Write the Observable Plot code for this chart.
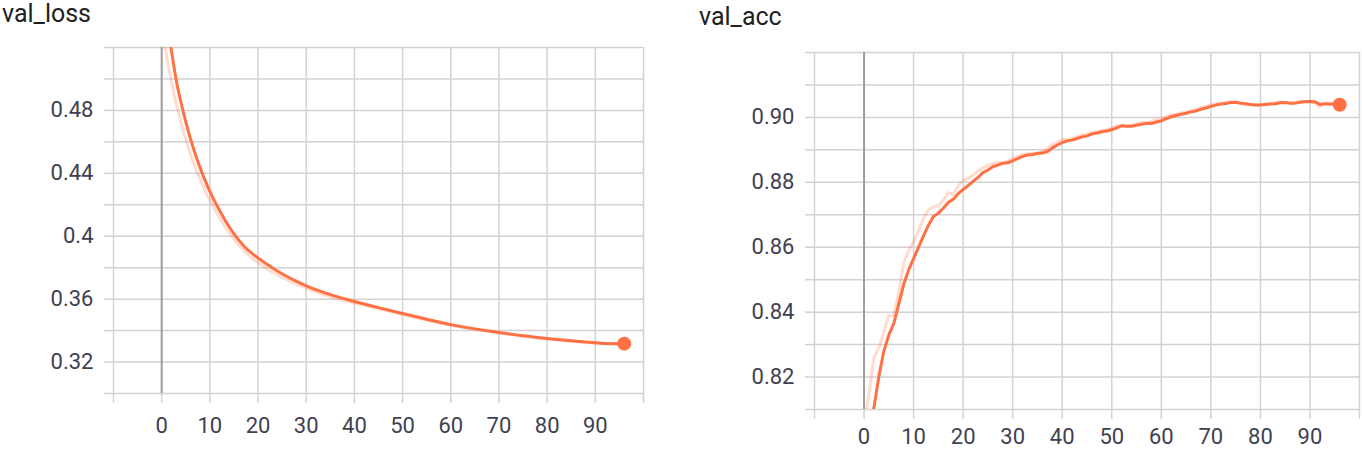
<!DOCTYPE html>
<html><head><meta charset="utf-8">
<script src="https://cdn.jsdelivr.net/npm/d3@7"></script>
<script src="https://cdn.jsdelivr.net/npm/@observablehq/plot@0.6"></script>
<style>
body{margin:0;background:#fff;width:1362px;height:449px;overflow:hidden;position:relative;font-family:Roboto,sans-serif}
.title{position:absolute;font-size:25px;color:#212121;line-height:1;white-space:nowrap}
.chart{position:absolute;top:0}
</style></head><body>
<div class="title" style="left:2px;top:1px">val_loss</div>
<div class="title" style="left:699px;top:4px">val_acc</div>
<div class="chart" id="c1" style="left:0"></div>
<div class="chart" id="c2" style="left:680px"></div>
<script>
// ---- data ----
const xGrid = [-10, 0, 10, 20, 30, 40, 50, 60, 70, 80, 90, 100];
const xTickLabels = [0, 10, 20, 30, 40, 50, 60, 70, 80, 90];

const lossGrid = [0.30, 0.32, 0.34, 0.36, 0.38, 0.40, 0.42, 0.44, 0.46, 0.48, 0.50, 0.52];
const lossTicks = [0.32, 0.36, 0.40, 0.44, 0.48];
const lossTickLabels = ["0.32", "0.36", "0.4", "0.44", "0.48"];

const accGrid = [0.81, 0.82, 0.83, 0.84, 0.85, 0.86, 0.87, 0.88, 0.89, 0.90, 0.91, 0.92];
const accTicks = [0.82, 0.84, 0.86, 0.88, 0.90];
const accTickLabels = ["0.82", "0.84", "0.86", "0.88", "0.90"];

// val_loss smoothed
const lossEpochs = [0,1,2,3,4,5,6,7,8,9,10,11,12,13,14,15,16,17,18,19,20,22,24,26,28,30,33,36,40,45,50,55,60,65,70,75,80,85,90,92,94,96];
const lossSmooth = [0.56,0.538,0.5185,0.4995,0.4852,0.4727,0.4617,0.452,0.4433,0.4355,0.4285,0.4222,0.4165,0.411,0.406,0.4015,0.3975,0.394,0.391,0.3885,0.3862,0.3818,0.3779,0.3744,0.3713,0.3685,0.3649,0.3619,0.3585,0.3546,0.3509,0.3472,0.3438,0.3411,0.3388,0.3367,0.335,0.3335,0.3322,0.3318,0.3317,0.3317];
// val_loss raw
const lossRawEpochs = [0,1,2,3,4,5,6,7,8,9,10,12,14,16,18,20,22,25,30,35,40,50,60,70,80,90,96];
const lossRaw = [0.535,0.515,0.4985,0.4845,0.4725,0.4615,0.452,0.4435,0.436,0.4292,0.423,0.4118,0.4022,0.3945,0.3882,0.3832,0.379,0.3738,0.3668,0.3615,0.3575,0.3502,0.3433,0.3384,0.3347,0.332,0.3316];

// val_acc, epochs 0..96
const accEpochs = d3.range(0, 97);
const accSmooth = [0.800,0.805,0.8105,0.8203,0.828,0.833,0.8365,0.8425,0.8485,0.853,0.8565,0.860,0.8635,0.8668,0.8695,0.8705,0.872,0.8738,0.8748,0.8765,0.8778,0.879,0.8803,0.8815,0.883,0.8838,0.8848,0.8853,0.8859,0.886,0.8866,0.8873,0.888,0.8884,0.8886,0.8889,0.889,0.8895,0.8906,0.8915,0.8922,0.8928,0.893,0.8935,0.894,0.8943,0.8949,0.8952,0.8956,0.8958,0.8962,0.8968,0.8974,0.8973,0.8973,0.8976,0.8979,0.8982,0.8981,0.8986,0.8989,0.8996,0.9002,0.9006,0.901,0.9013,0.9017,0.902,0.9025,0.9029,0.9034,0.9038,0.9041,0.9043,0.9046,0.9047,0.9044,0.9042,0.904,0.9038,0.9038,0.904,0.9041,0.9042,0.9045,0.9046,0.9044,0.9044,0.9047,0.9048,0.9049,0.9048,0.904,0.9042,0.9041,0.9042,0.9039];
const accRaw = [0.805,0.815,0.826,0.829,0.834,0.839,0.839,0.846,0.855,0.859,0.8616,0.865,0.869,0.8715,0.8725,0.8728,0.8745,0.8768,0.8762,0.879,0.8805,0.8812,0.8822,0.8835,0.8845,0.8852,0.8858,0.8862,0.8858,0.8866,0.8874,0.888,0.8886,0.8888,0.8889,0.889,0.8895,0.8905,0.8916,0.8924,0.8932,0.893,0.8936,0.894,0.8946,0.8948,0.8954,0.8956,0.896,0.8962,0.8968,0.8974,0.8976,0.8972,0.8976,0.8981,0.8984,0.8982,0.8988,0.8992,0.8996,0.9003,0.9008,0.901,0.9014,0.9017,0.9021,0.9025,0.903,0.9034,0.9039,0.9042,0.9044,0.9046,0.9048,0.9046,0.9042,0.904,0.9038,0.9038,0.904,0.9042,0.9043,0.9045,0.9048,0.9045,0.9044,0.9046,0.9049,0.905,0.9049,0.9045,0.9033,0.9044,0.904,0.9043,0.9037];

// ---- styling ----
const ORANGE = "#ff7043";
const GRID = "#d2d2d2";
const ZERO = "#9e9e9e";
const LABEL = "#3f4150";
const FS = 22;

function chart({width, margins, yDomain, yGrid, yTicks, yLabels, curves, last, curve, xPad}) {
  return Plot.plot({
    width, height: 449,
    marginLeft: margins[0], marginRight: margins[1], marginTop: margins[2], marginBottom: margins[3],
    x: {domain: [-10, 100]},
    y: {domain: yDomain},
    style: {fontFamily: "Roboto, sans-serif", background: "transparent", overflow: "visible"},
    marks: [
      Plot.ruleX(xGrid, {stroke: GRID, strokeWidth: 1.5}),
      Plot.ruleY(yGrid, {stroke: GRID, strokeWidth: 1.5}),
      Plot.axisX({ticks: xGrid, tickSize: 10, stroke: GRID, strokeWidth: 1.5, tickFormat: () => "", fill: "none"}),
      Plot.axisY({ticks: yGrid, tickSize: 9, stroke: GRID, strokeWidth: 1.5, tickFormat: () => "", fill: "none"}),
      Plot.ruleX([0], {stroke: ZERO, strokeWidth: 2}),
      Plot.axisX({ticks: xTickLabels, tickSize: 0, tickPadding: xPad, fontSize: FS, fill: LABEL, tickFormat: d => String(d)}),
      Plot.axisY({ticks: yTicks, tickSize: 0, tickPadding: 20, fontSize: FS, fill: LABEL, tickFormat: d => yLabels[yTicks.indexOf(d)]}),
      Plot.line(curves.raw.y, {x: curves.raw.x, y: curves.raw.y, stroke: ORANGE, strokeOpacity: 0.25, strokeWidth: 3, curve, clip: true}),
      Plot.line(curves.smooth.y, {x: curves.smooth.x, y: curves.smooth.y, stroke: ORANGE, strokeWidth: 3, curve, clip: true}),
      Plot.dot([last], {x: d => d[0], y: d => d[1], r: 7, fill: ORANGE})
    ]
  });
}

document.getElementById("c1").append(chart({
  width: 680, margins: [113, 37, 47, 56],
  yDomain: [0.30, 0.52], yGrid: lossGrid, yTicks: lossTicks, yLabels: lossTickLabels,
  curves: {raw: {x: lossRawEpochs, y: lossRaw}, smooth: {x: lossEpochs, y: lossSmooth}},
  last: [lossEpochs[lossEpochs.length - 1], lossSmooth[lossSmooth.length - 1]],
  curve: "natural", xPad: 24
}));

document.getElementById("c2").append(chart({
  width: 682, margins: [134, 3, 52, 40],
  yDomain: [0.81, 0.92], yGrid: accGrid, yTicks: accTicks, yLabels: accTickLabels,
  curves: {raw: {x: accEpochs, y: accRaw}, smooth: {x: accEpochs, y: accSmooth}},
  last: [accEpochs[accEpochs.length - 1], accSmooth[accSmooth.length - 1]],
  curve: "linear", xPad: 19
}));
</script>
</body></html>
